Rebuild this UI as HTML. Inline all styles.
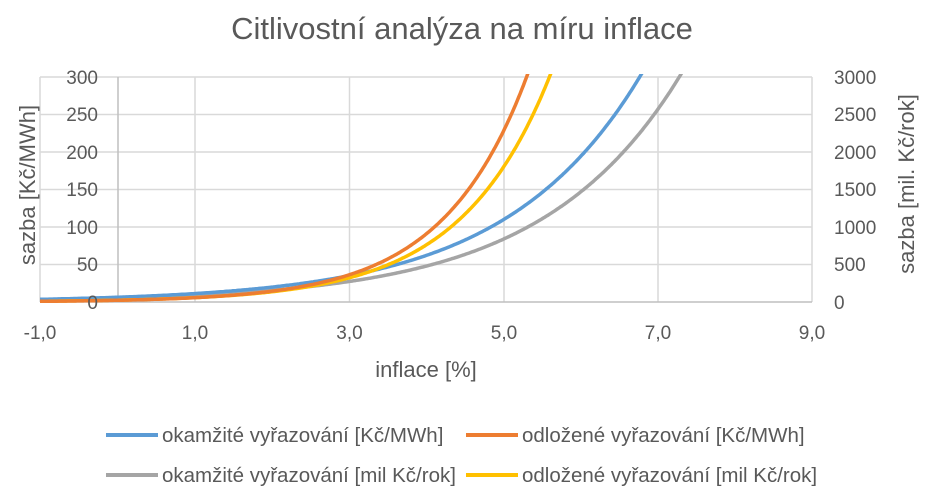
<!DOCTYPE html>
<html><head><meta charset="utf-8"><style>body{margin:0;background:#fff}svg{display:block;font-family:"Liberation Sans",sans-serif}</style></head><body>
<svg width="935" height="499" xmlns="http://www.w3.org/2000/svg">
<rect width="935" height="499" fill="#fff"/>
<text x="462" y="39" text-anchor="middle" font-size="31" fill="#595959">Citlivostní analýza na míru inflace</text>
<g stroke="#d9d9d9" stroke-width="1.5">
<line x1="40" y1="77" x2="812" y2="77"/><line x1="40" y1="114.5" x2="812" y2="114.5"/><line x1="40" y1="152" x2="812" y2="152"/><line x1="40" y1="189.5" x2="812" y2="189.5"/><line x1="40" y1="227" x2="812" y2="227"/><line x1="40" y1="264.5" x2="812" y2="264.5"/>
<line x1="40" y1="77" x2="40" y2="302"/><line x1="195" y1="77" x2="195" y2="302"/><line x1="349.5" y1="77" x2="349.5" y2="302"/><line x1="504" y1="77" x2="504" y2="302"/><line x1="658" y1="77" x2="658" y2="302"/><line x1="812" y1="77" x2="812" y2="302"/>
</g>
<line x1="118" y1="77" x2="118" y2="302" stroke="#bfbfbf" stroke-width="1.5"/>
<line x1="40" y1="302" x2="812" y2="302" stroke="#bfbfbf" stroke-width="1.5"/>
<defs><clipPath id="c"><rect x="40" y="74" width="772" height="232"/></clipPath></defs>
<g clip-path="url(#c)" fill="none" stroke-width="3.5" id="curves"></g>
<g font-size="19" fill="#595959" text-anchor="end">
<text x="98" y="84">300</text><text x="98" y="121">250</text><text x="98" y="159">200</text><text x="98" y="196">150</text><text x="98" y="234">100</text><text x="98" y="271">50</text><text x="98" y="309">0</text>
</g>
<g font-size="19" fill="#595959" text-anchor="start">
<text x="834" y="84">3000</text><text x="834" y="121">2500</text><text x="834" y="159">2000</text><text x="834" y="196">1500</text><text x="834" y="234">1000</text><text x="834" y="271">500</text><text x="834" y="309">0</text>
</g>
<g font-size="19" fill="#595959" text-anchor="middle">
<text x="40" y="339">-1,0</text><text x="195" y="339">1,0</text><text x="349.5" y="339">3,0</text><text x="504" y="339">5,0</text><text x="658" y="339">7,0</text><text x="812" y="339">9,0</text>
</g>
<g font-size="22" fill="#595959" text-anchor="middle">
<text x="426" y="377">inflace [%]</text>
<text transform="translate(35,185) rotate(-90)">sazba [Kč/MWh]</text>
<text transform="translate(914,184) rotate(-90)">sazba [mil. Kč/rok]</text>
</g>
<g font-size="20.5" fill="#595959">
<line x1="106" y1="435" x2="158" y2="435" stroke="#5b9bd5" stroke-width="4"/><text x="162" y="442">okamžité vyřazování [Kč/MWh]</text>
<line x1="466" y1="435" x2="518" y2="435" stroke="#ed7d31" stroke-width="4"/><text x="522" y="442">odložené vyřazování [Kč/MWh]</text>
<line x1="106" y1="475" x2="158" y2="475" stroke="#a5a5a5" stroke-width="4"/><text x="162" y="482">okamžité vyřazování [mil Kč/rok]</text>
<line x1="466" y1="475" x2="518" y2="475" stroke="#ffc000" stroke-width="4"/><text x="522" y="482">odložené vyřazování [mil Kč/rok]</text>
</g>
<script>
var g=document.getElementById('curves');
var s=[["#a5a5a5",84,0.56],["#5b9bd5",110,0.57],["#ffc000",180,0.86],["#ed7d31",228,0.92]];
s.forEach(function(c){var d="";for(var x=-1;x<=9.001;x+=0.02){var v=c[1]*Math.exp(c[2]*(x-5));if(v>400)v=400;var px=40+(x+1)*77.2,py=302-v*0.747;d+=(d?"L":"M")+px.toFixed(1)+","+py.toFixed(1);}
var p=document.createElementNS("http://www.w3.org/2000/svg","path");p.setAttribute("d",d);p.setAttribute("stroke",c[0]);g.appendChild(p);});
</script>
</svg>
</body></html>
